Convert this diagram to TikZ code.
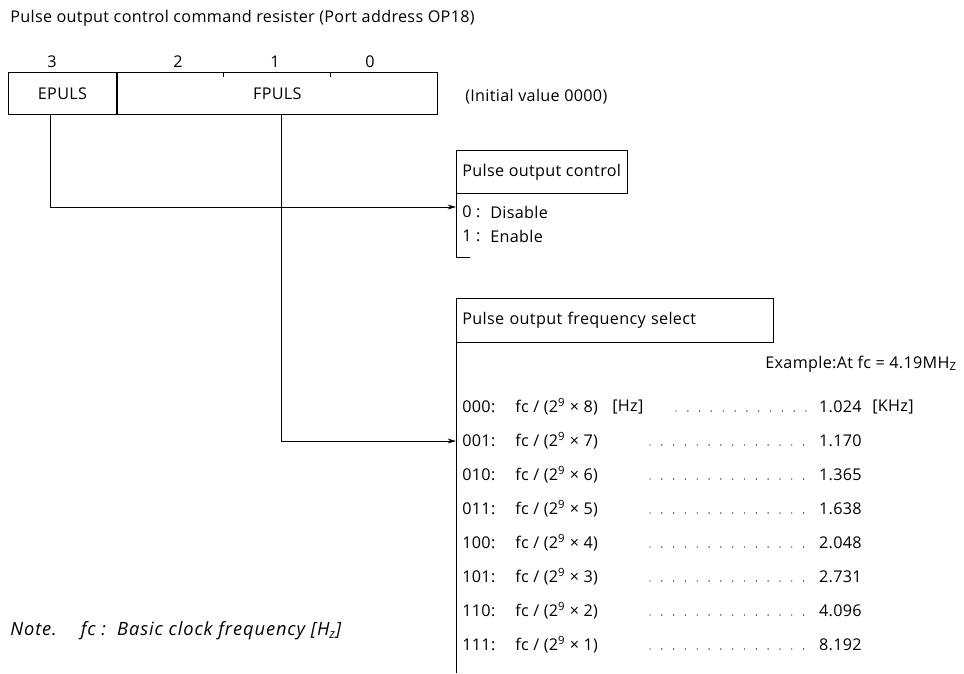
\documentclass[tikz,border=0pt]{standalone}
\usepackage{fontspec}
\setmainfont{Open Sans}[LetterSpace=2]
\usetikzlibrary{arrows.meta,positioning}

\begin{document}
\begin{tikzpicture}[x=0.025cm, y=-0.025cm,
  txt/.style={font=\fontsize{11.5}{13}\selectfont, inner sep=0pt},
  field/.style={draw, line width=0.6pt, inner sep=0pt, font=\fontsize{11.5}{13}\selectfont},
  headbox/.style={draw, line width=0.6pt, anchor=north west, inner xsep=0.15cm, align=left,
    font=\fontsize{11.5}{13}\selectfont},
  sig/.style={line width=0.6pt, -{Stealth[length=6pt,width=3.5pt]}},
  leaderdots/.style={line width=1pt, line cap=round, dash pattern=on 0pt off 8.4pt}]
  \useasboundingbox (0,0) rectangle (964,673);

  % --- Title ---
  \node[txt, anchor=west] (title) at (10,18) {Pulse output control command resister (Port address OP18)};

  % --- Register: bit numbers and fields ---
  \node[txt] (bit3) at (52,62) {3};
  \node[txt] (bit2) at (178,62) {2};
  \node[txt] (bit1) at (275,62) {1};
  \node[txt] (bit0) at (370,62) {0};
  \node[field, anchor=north west, minimum width=2.7cm, minimum height=1.05cm] (epuls) at (8,72) {EPULS};
  \node[field, anchor=north west, minimum width=8cm, minimum height=1.05cm] (fpuls) at (epuls.north east) {FPULS};
  \draw[line width=0.6pt] (223,72) -- (223,77) (330,72) -- (330,77);
  \node[txt, anchor=west] (init) at (465,97) {(Initial value 0000)};

  % --- Pulse output control ---
  \node[headbox, minimum height=1.075cm] (ctltitle) at (456,150) {Pulse output control};
  \draw[line width=0.6pt] (ctltitle.south west) -- ++(0,64) -- ++(14,0);
  \coordinate (ctlin) at (456,207);
  \node[txt, anchor=west] (ctl0) at (462,212) {0 :};
  \node[txt, anchor=west] (ctl0txt) at (490,212) {Disable};
  \node[txt, anchor=west] (ctl1) at (462,236) {1 :};
  \node[txt, anchor=west] (ctl1txt) at (490,236) {Enable};

  % --- Pulse output frequency select ---
  \node[headbox, text width=7.625cm, minimum height=1.1cm] (freqtitle) at (456,298) {Pulse output frequency select};
  \draw[line width=0.6pt] (freqtitle.south west) -- ++(0,330);
  \coordinate (freqin) at (456,441);
  \node[txt, anchor=east] (example) at (957,364) {Example:At fc = 4.19MH\textsubscript{Z}};
  \foreach \code/\n/\val [count=\i from 0] in {000/8/1.024, 001/7/1.170, 010/6/1.365, 011/5/1.638,
      100/4/2.048, 101/3/2.731, 110/2/4.096, 111/1/8.192} {
    \node[txt, anchor=west] (code\i) at (462,407+34*\i) {\code:};
    \node[txt, anchor=west] (div\i) at (515,407+34*\i) {fc / (2\textsuperscript{9} × \n)};
    \node[txt, anchor=east] (val\i) at (862,407+34*\i) {\val};
  }
  \node[txt, anchor=west] (hz) at (612,407) {[Hz]};
  \node[txt, anchor=west] (khz) at (872,407) {[KHz]};
  \draw[leaderdots] (676,411) -- (812,411);
  \foreach \i in {1,...,7}
    \draw[leaderdots] (650,411+34*\i) -- (812,411+34*\i);

  % --- Connectors ---
  \draw[sig] ([xshift=-0.3cm]epuls.south) |- (ctlin);
  \draw[sig] ([xshift=0.1cm]fpuls.south) |- (freqin);

  % Note
  \node[txt, anchor=west, font=\fontsize{13}{15}\selectfont\itshape\addfontfeature{LetterSpace=5}] (note) at (10,631)
    {Note.\quad\ fc :\ \ Basic clock frequency [H\textsubscript{z}]};
\end{tikzpicture}
\end{document}
